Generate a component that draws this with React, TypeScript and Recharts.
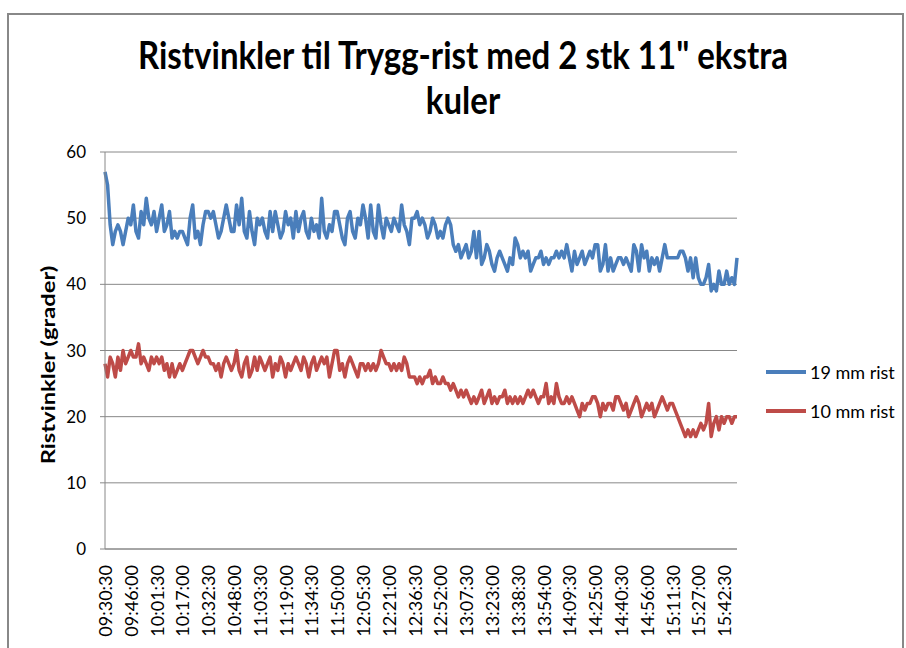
import { LineChart, Line, XAxis, YAxis, CartesianGrid } from "recharts"

// sampling: one reading every 93 s from the start time
const startTime = "09:30:30"
const stepSeconds = 93

const xTickLabels = [
  "09:30:30", "09:46:00", "10:01:30", "10:17:00", "10:32:30", "10:48:00", "11:03:30",
  "11:19:00", "11:34:30", "11:50:00", "12:05:30", "12:21:00", "12:36:30", "12:52:00",
  "13:07:30", "13:23:00", "13:38:30", "13:54:00", "14:09:30", "14:25:00", "14:40:30",
  "14:56:00", "15:11:30", "15:27:00", "15:42:30",
]

const yTicks = [0, 10, 20, 30, 40, 50, 60]

const seriesNames = ["19 mm rist", "10 mm rist"]
const seriesColors = ["#4A7EBB", "#BE4B48"]

// 19 mm rist (grader)
const rist19 = [
  57, 55, 49, 46, 48, 49, 48, 46, 48, 50,
  49, 52, 48, 47, 51, 49, 53, 50, 49, 51,
  48, 50, 52, 48, 49, 51, 47, 48, 47, 48,
  48, 47, 46, 50, 52, 47, 48, 46, 49, 51,
  51, 50, 51, 49, 47, 48, 50, 52, 50, 48,
  48, 52, 49, 53, 48, 47, 51, 48, 46, 50,
  49, 50, 48, 47, 51, 48, 51, 49, 47, 48,
  51, 49, 50, 47, 51, 48, 50, 51, 48, 47,
  50, 48, 49, 47, 53, 48, 47, 49, 48, 51,
  51, 49, 47, 46, 50, 51, 48, 47, 50, 49,
  52, 50, 47, 52, 48, 47, 52, 49, 47, 50,
  49, 48, 50, 49, 48, 52, 49, 48, 46, 50,
  50, 51, 49, 50, 49, 47, 48, 50, 49, 47,
  48, 47, 49, 50, 49, 46, 45, 46, 44, 45,
  46, 44, 45, 48, 44, 48, 43, 44, 46, 45,
  43, 42, 44, 45, 44, 43, 42, 44, 43, 47,
  46, 44, 45, 44, 45, 42, 43, 44, 44, 45,
  43, 44, 43, 44, 44, 45, 44, 45, 44, 46,
  44, 42, 45, 43, 44, 45, 43, 44, 45, 44,
  46, 46, 42, 43, 46, 42, 44, 42, 43, 44,
  44, 43, 44, 43, 42, 46, 45, 42, 46, 44,
  45, 42, 44, 43, 44, 42, 44, 46, 44, 44,
  44, 44, 44, 45, 45, 44, 42, 44, 41, 44,
  41, 40, 40, 41, 43, 39, 40, 39, 42, 40,
  40, 42, 40, 41, 40, 44,
]

// 10 mm rist (grader)
const rist10 = [
  28, 26, 29, 28, 26, 29, 27, 30, 28, 29,
  30, 29, 29, 31, 28, 29, 28, 27, 29, 28,
  29, 28, 29, 27, 28, 26, 28, 26, 27, 28,
  27, 28, 29, 30, 30, 29, 28, 29, 30, 29,
  29, 28, 28, 27, 28, 26, 28, 29, 28, 27,
  28, 30, 27, 26, 28, 29, 26, 27, 29, 27,
  29, 28, 27, 28, 29, 26, 28, 27, 29, 28,
  26, 28, 27, 28, 29, 28, 27, 29, 28, 26,
  28, 29, 27, 28, 29, 28, 29, 26, 28, 30,
  30, 27, 28, 26, 28, 29, 28, 27, 26, 28,
  28, 27, 28, 27, 28, 27, 28, 30, 29, 28,
  28, 27, 28, 27, 28, 27, 29, 28, 26, 26,
  26, 25, 26, 25, 26, 26, 27, 25, 26, 25,
  25, 26, 25, 25, 24, 25, 24, 23, 24, 23,
  24, 23, 22, 23, 22, 23, 24, 22, 23, 24,
  22, 23, 22, 23, 23, 24, 22, 23, 22, 23,
  22, 23, 22, 23, 24, 23, 24, 23, 22, 23,
  23, 25, 22, 23, 22, 25, 23, 22, 22, 23,
  22, 23, 22, 21, 20, 22, 21, 22, 22, 23,
  23, 22, 20, 22, 21, 22, 22, 21, 23, 23,
  22, 21, 22, 20, 21, 22, 23, 22, 20, 21,
  22, 21, 22, 20, 21, 22, 23, 22, 21, 22,
  22, 21, 20, 19, 18, 17, 18, 17, 18, 17,
  18, 19, 18, 19, 22, 17, 19, 20, 18, 20,
  19, 20, 20, 19, 20, 20,
]

const toSeconds = (s: string) => {
  const [h, m, sec] = s.split(":").map(Number)
  return h * 3600 + m * 60 + sec
}

const t0 = toSeconds(startTime)
const pad = (n: number) => String(n).padStart(2, "0")
const formatTime = (rel: number) => {
  const abs = t0 + rel
  return `${pad(Math.floor(abs / 3600))}:${pad(Math.floor((abs % 3600) / 60))}:${pad(abs % 60)}`
}

const xTicks = xTickLabels.map((l) => toSeconds(l) - t0)

const data = rist19.map((v, i) => ({
  t: i * stepSeconds,
  r19: v,
  r10: rist10[i],
}))

const lastT = (rist19.length - 1) * stepSeconds
const font = "Lato, 'Open Sans', sans-serif"

function XTick(props: any) {
  const { x, y, payload } = props
  const ty = y + 8
  return (
    <text
      x={x}
      y={ty}
      transform={`rotate(-90, ${x}, ${ty})`}
      textAnchor="end"
      dominantBaseline="central"
      fontFamily={font}
      fontSize={18}
      fill="#000"
    >
      {formatTime(payload.value)}
    </text>
  )
}

export default function App() {
  return (
    <div style={{ position: "absolute", left: 0, top: 0, width: 906, height: 648, background: "#fff", overflow: "hidden" }}>
      <div
        style={{
          position: "absolute",
          left: 7,
          top: 13,
          width: 897,
          height: 700,
          border: "2px solid #888",
          boxSizing: "border-box",
        }}
      />
      <LineChart
        width={906}
        height={648}
        data={data}
        margin={{ top: 152, right: 169, left: 45, bottom: 0 }}
        style={{ position: "absolute", left: 0, top: 0 }}
      >
        <CartesianGrid vertical={false} stroke="#888" />
        <XAxis
          dataKey="t"
          type="number"
          domain={[0, lastT]}
          ticks={xTicks}
          interval={0}
          height={99}
          stroke="#888"
          tickLine={false}
          tick={<XTick />}
        />
        <YAxis
          domain={[0, 60]}
          ticks={yTicks}
          width={60}
          stroke="#888"
          tickSize={5}
          tickMargin={14}
          tick={{ fill: "#000", fontSize: 17, fontFamily: font }}
        />
        <Line dataKey="r19" name={seriesNames[0]} stroke={seriesColors[0]} strokeWidth={3.5} strokeLinejoin="round" dot={false} isAnimationActive={false} />
        <Line dataKey="r10" name={seriesNames[1]} stroke={seriesColors[1]} strokeWidth={3.5} strokeLinejoin="round" dot={false} isAnimationActive={false} />
      </LineChart>

      <svg width={906} height={648} style={{ position: "absolute", left: 0, top: 0, pointerEvents: "none" }}>
        <g transform="translate(463, 69) scale(1, 1.18)">
          <text textAnchor="middle" fontFamily={font} fontWeight="bold" fontSize={33} fill="#000">
            Ristvinkler til Trygg-rist med 2 stk 11" ekstra
          </text>
        </g>
        <g transform="translate(463, 114) scale(1, 1.18)">
          <text textAnchor="middle" fontFamily={font} fontWeight="bold" fontSize={33} fill="#000">
            kuler
          </text>
        </g>
        <g transform="translate(55, 365) rotate(-90) scale(1.25, 1)">
          <text textAnchor="middle" fontFamily={font} fontWeight="bold" fontSize={19} fill="#000">
            Ristvinkler (grader)
          </text>
        </g>
      </svg>

      <div style={{ position: "absolute", left: 766, top: 352, fontFamily: font, fontSize: 18, color: "#000" }}>
        {seriesNames.map((name, i) => (
          <div key={name} style={{ display: "flex", alignItems: "center", height: 39, whiteSpace: "nowrap" }}>
            <span style={{ display: "inline-block", width: 40, height: 4, background: seriesColors[i], marginRight: 4 }} />
            {name}
          </div>
        ))}
      </div>
    </div>
  )
}
